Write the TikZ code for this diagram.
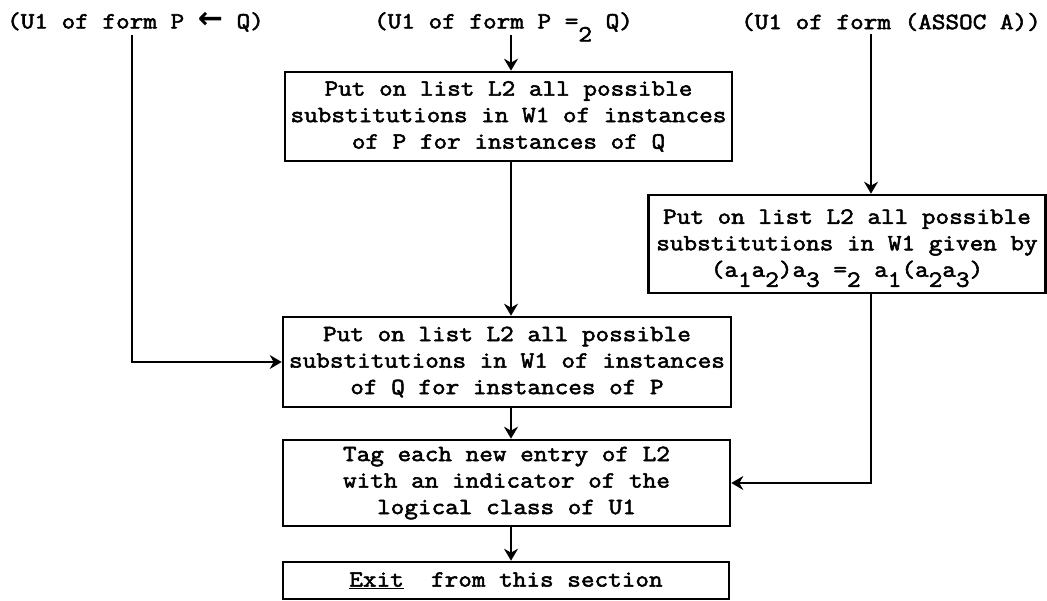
\documentclass[tikz,border=0pt]{standalone}
\usepackage{fontspec}
\newfontfamily\tw{Latin Modern Mono}[FakeStretch=1.14,FakeBold=2.4]
\newfontfamily\dvs{DejaVu Sans}
\usetikzlibrary{arrows.meta}
\newcommand{\lowr}[2]{\smash{\raisebox{-#1}{#2}}}
\tikzset{
  tt/.style={font=\tw\fontsize{23.2pt}{26.5pt}\selectfont},
  box/.style={tt, draw, line width=2.6pt, inner sep=0pt, align=center},
  lab/.style={tt, inner sep=3pt},
  conn/.style={line width=2.2pt},
  arr/.style={conn, -{Stealth[length=12pt,width=14pt,inset=4pt]}},
}
\begin{document}
\begin{tikzpicture}[x=1pt,y=-1pt]
\useasboundingbox (0,0) rectangle (1047,601);
\node[lab] (l1) at (135.5,22) {(U1 of form P \smash{\dvs\bfseries\fontsize{30pt}{30pt}\selectfont ←}~Q)};
\node[lab] (l2) at (503.5,22) {(U1 of form P =\lowr{13pt}{2} Q)};
\node[lab] (l3) at (891,22) {(U1 of form (ASSOC A))};
\node[box, minimum width=447pt, minimum height=89pt] (b1) at (508.5,116.5)
  {Put on list L2 all possible\\substitutions in W1 of instances\\of P for instances of Q};
\node[box, minimum width=397pt, minimum height=98pt] (b2) at (847,244)
  {Put on list L2 all possible\\substitutions in W1 given by\\(a\lowr{10pt}{1}a\lowr{10pt}{2})a\lowr{10pt}{3} =\lowr{10pt}{2} a\lowr{10pt}{1}(a\lowr{10pt}{2}a\lowr{10pt}{3})};
\node[box, minimum width=448pt, minimum height=90pt] (b3) at (507,362)
  {Put on list L2 all possible\\substitutions in W1 of instances\\of Q for instances of P};
\node[box, minimum width=447pt, minimum height=86pt] (b4) at (506.5,483)
  {Tag each new entry of L2\\with an indicator of the\\logical class of U1};
\node[box, minimum width=446pt, minimum height=37pt] (b5) at (506,580.5)
  {\underline{Exit}~~from this section};
\coordinate (cx) at (511,0);
\coordinate (lx) at (132,0);
\coordinate (rx) at (871,0);
\draw[arr] (cx |- l2.south) -- (cx |- b1.north);
\draw[arr] (cx |- b1.south) -- (cx |- b3.north);
\draw[arr] (cx |- b3.south) -- (cx |- b4.north);
\draw[arr] (cx |- b4.south) -- (cx |- b5.north);
\draw[arr] (lx |- l1.south) -- (lx |- b3.west) -- (b3.west);
\draw[arr] (rx |- l3.south) -- (rx |- b2.north);
\draw[arr] (rx |- b2.south) -- (rx |- b4.east) -- (b4.east);
\end{tikzpicture}
\end{document}
